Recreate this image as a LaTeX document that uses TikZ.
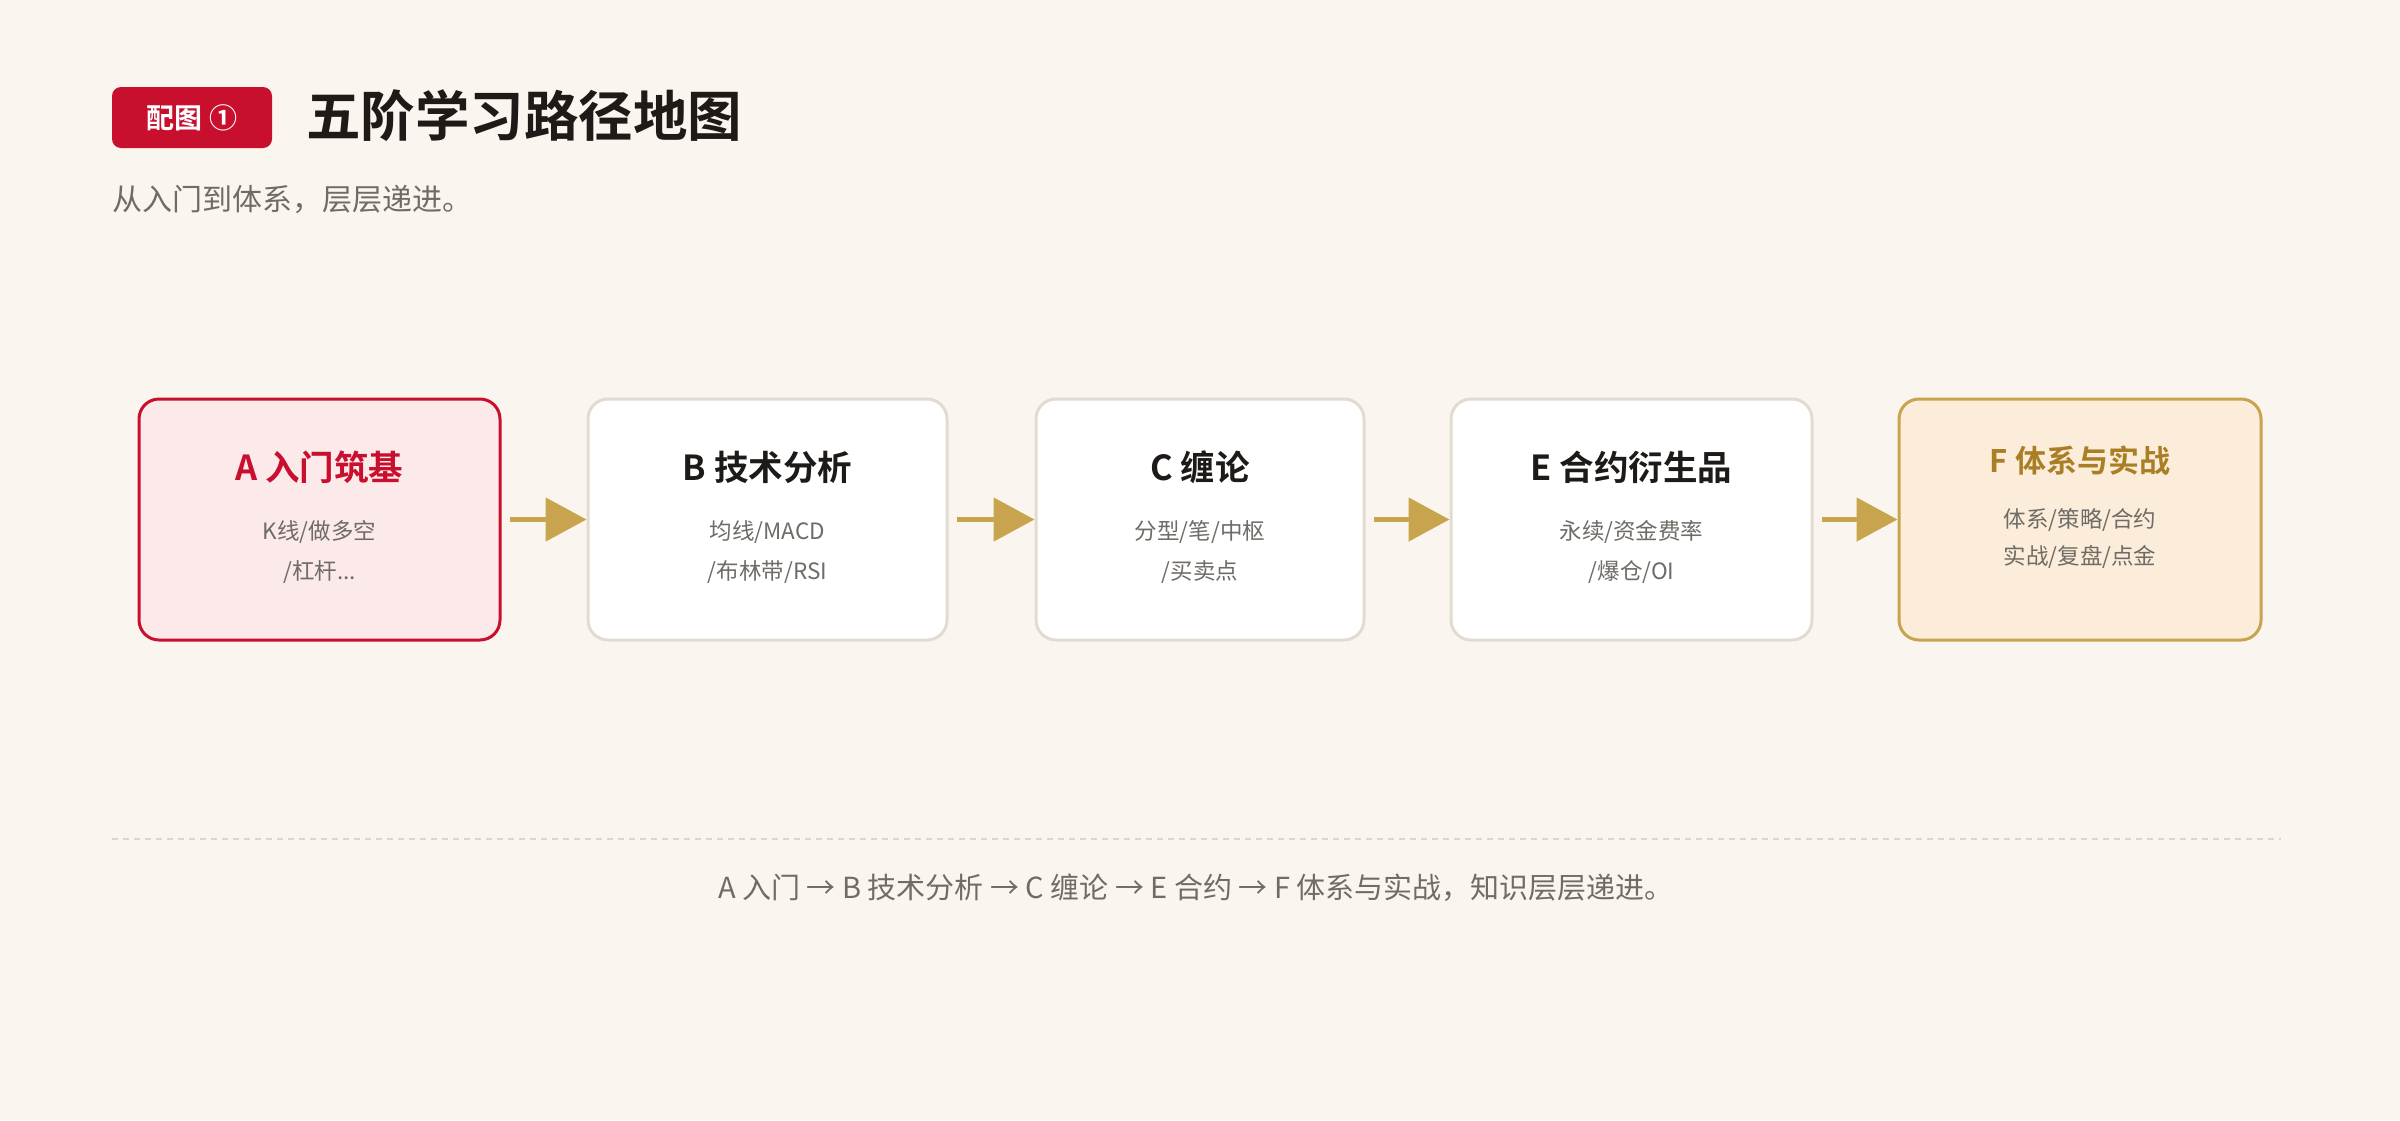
\documentclass[tikz,border=0pt]{standalone}
\usepackage{fontspec}
\setmainfont{Noto Sans CJK SC}[BoldFont={Noto Sans CJK SC Bold}]
\usetikzlibrary{arrows.meta}
\definecolor{bg}{HTML}{FAF6EF}
\definecolor{red}{HTML}{C8102E}
\definecolor{redfill}{HTML}{FCE9EA}
\definecolor{cardline}{HTML}{E2DBD0}
\definecolor{gold}{HTML}{C9A44E}
\definecolor{goldfill}{HTML}{FBEDDA}
\definecolor{goldtext}{HTML}{A97E25}
\definecolor{graytext}{HTML}{6F6B66}
\definecolor{dark}{HTML}{1E1A17}
\definecolor{dashc}{HTML}{DCD5CA}
\newcommand{\fs}[1]{\fontsize{#1}{#1}\selectfont}
\begin{document}
\begin{tikzpicture}[x=1pt,y=-1pt,
  card/.style={draw=cardline, fill=white, rounded corners=20pt, line width=3pt, minimum height=241pt, inner sep=0pt},
  cardA/.style={card, draw=red, fill=redfill},
  cardF/.style={card, draw=gold, fill=goldfill},
  ttl/.style={inner sep=0pt, font=\fs{34.5}\bfseries, text=dark},
  sub/.style={inner sep=0pt, font=\fs{22.5}, text=graytext, align=center},
  arr/.style={draw=gold, line width=5pt, -{Triangle[length=41pt,width=43pt]}, color=gold}
]
\useasboundingbox[fill=bg] (0,0) rectangle (2400,1120);

% header
\node[fill=red, rounded corners=9pt, minimum width=160pt, minimum height=61pt, inner sep=0pt,
      text=white, font=\fs{28}\bfseries] (badge) at (192,117.5) {配图 ①};
\node[anchor=west, inner sep=0pt, font=\fs{54.5}\bfseries, text=dark] (title) at (306,116) {五阶学习路径地图};
\node[anchor=west, inner sep=0pt, font=\fs{30}, text=graytext] (subtitle) at (112,199) {从入门到体系，层层递进。};

% cards
\node[cardA, minimum width=361pt] (a) at (319.5,519.5) {};
\node[card,  minimum width=359pt] (b) at (767.5,519.5) {};
\node[card,  minimum width=328pt] (c) at (1200,519.5) {};
\node[card,  minimum width=361pt] (e) at (1631.5,519.5) {};
\node[cardF, minimum width=362pt] (f) at (2080,519.5) {};

\node[ttl, text=red] (at) at (319.5,467) {A 入门筑基};
\node[sub] (a1) at (319.5,532) {K线/做多空};
\node[sub] (a2) at (319.5,572) {/杠杆...};

\node[ttl] (bt) at (767.5,467) {B 技术分析};
\node[sub] (b1) at (767.5,532) {均线/MACD};
\node[sub] (b2) at (767.5,572) {/布林带/RSI};

\node[ttl] (ct) at (1200,467) {C 缠论};
\node[sub] (c1) at (1200,532) {分型/笔/中枢};
\node[sub] (c2) at (1200,572) {/买卖点};

\node[ttl] (et) at (1631.5,467) {E 合约衍生品};
\node[sub] (e1) at (1631.5,532) {永续/资金费率};
\node[sub] (e2) at (1631.5,572) {/爆仓/OI};

\node[ttl, text=goldtext, font=\fs{31}\bfseries] (ft) at (2080,461) {F 体系与实战};
\node[sub] (f1) at (2080,520) {体系/策略/合约};
\node[sub] (f2) at (2080,557) {实战/复盘/点金};

% arrows
\draw[arr] ([xshift=8pt]a.east) -- (b.west);
\draw[arr] ([xshift=8pt]b.east) -- (c.west);
\draw[arr] ([xshift=8pt]c.east) -- (e.west);
\draw[arr] ([xshift=8pt]e.east) -- (f.west);

% footer
\coordinate (dl) at (112,839);
\coordinate (dr) at (2281,839);
\draw[dashc, line width=2pt, dash pattern=on 6pt off 5pt] (dl) -- (dr);
\node[inner sep=0pt, font=\fs{29}, text=graytext] (foot) at (1196,888) {A 入门 → B 技术分析 → C 缠论 → E 合约 → F 体系与实战，知识层层递进。};
\end{tikzpicture}
\end{document}
